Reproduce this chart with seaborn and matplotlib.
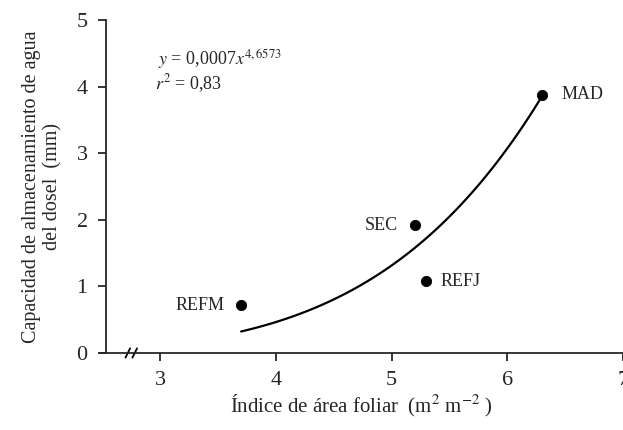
import numpy as np
import pandas as pd
import matplotlib
matplotlib.use("Agg")
import matplotlib.pyplot as plt
import seaborn as sns

# data
sites = ["REFM", "SEC", "REFJ", "MAD"]
iaf = [3.7, 5.2, 5.3, 6.3]
capacidad = [0.72, 1.92, 1.08, 3.88]

coef_a = 0.00073
coef_b = 4.6573
x_fit = np.linspace(3.7, 6.3, 100)
y_fit = coef_a * x_fit ** coef_b

df = pd.DataFrame({"site": sites, "iaf": iaf, "cap": capacidad})
df_fit = pd.DataFrame({"iaf": x_fit, "cap": y_fit})

sns.set_style("ticks")
plt.rcParams["font.family"] = ["Liberation Serif", "DejaVu Serif"]
plt.rcParams["mathtext.fontset"] = "stix"

fig = plt.figure(figsize=(6.23, 4.30), dpi=100)
ax = fig.add_axes([100 / 623, 77 / 430, 523 / 623, 333 / 430])

sns.lineplot(data=df_fit, x="iaf", y="cap", color="black", linewidth=1.6, ax=ax)
sns.scatterplot(data=df, x="iaf", y="cap", color="black", s=55, edgecolor="black", ax=ax, zorder=3)

# point labels
offsets = {"REFM": (-12, 0, "right"), "SEC": (-12, 0, "right"),
           "REFJ": (10, 0, "left"), "MAD": (14, 0, "left")}
for s, xv, yv in zip(sites, iaf, capacidad):
    dx, dy, ha = offsets[s]
    ax.annotate(s, (xv, yv), xytext=(dx, dy), textcoords="offset points",
                ha=ha, va="center", fontsize=13)

ax.text(0.111, 0.862, r"$y$ = 0,0007$x^{4,6573}$", transform=ax.transAxes,
        fontsize=13, va="baseline")
ax.text(0.105, 0.79, r"$r^2$ = 0,83", transform=ax.transAxes,
        fontsize=13, va="baseline")

ax.set_xlim(2.48, 7)
ax.set_ylim(0, 5)
ax.set_xticks([3, 4, 5, 6, 7])
ax.set_yticks([0, 1, 2, 3, 4, 5])
ax.spines["left"].set_position(("data", 2.53))
ax.spines["right"].set_visible(False)
ax.spines["top"].set_visible(False)
for sp in ax.spines.values():
    sp.set_linewidth(1.3)
ax.tick_params(direction="out", length=6, width=1.3, labelsize=16, pad=7)

# axis break marks
for xb in [2.72, 2.78]:
    ax.plot([xb - 0.02, xb + 0.02], [-0.07, 0.07], color="black", lw=1.3, clip_on=False)

ax.set_xlabel(r"Índice de área foliar  (m$^2$ m$^{-2}$ )", fontsize=15, labelpad=2)
ax.set_ylabel("Capacidad de almacenamiento de agua\ndel dosel  (mm)", fontsize=14.5, labelpad=10)

fig.savefig("out.png", dpi=100)
